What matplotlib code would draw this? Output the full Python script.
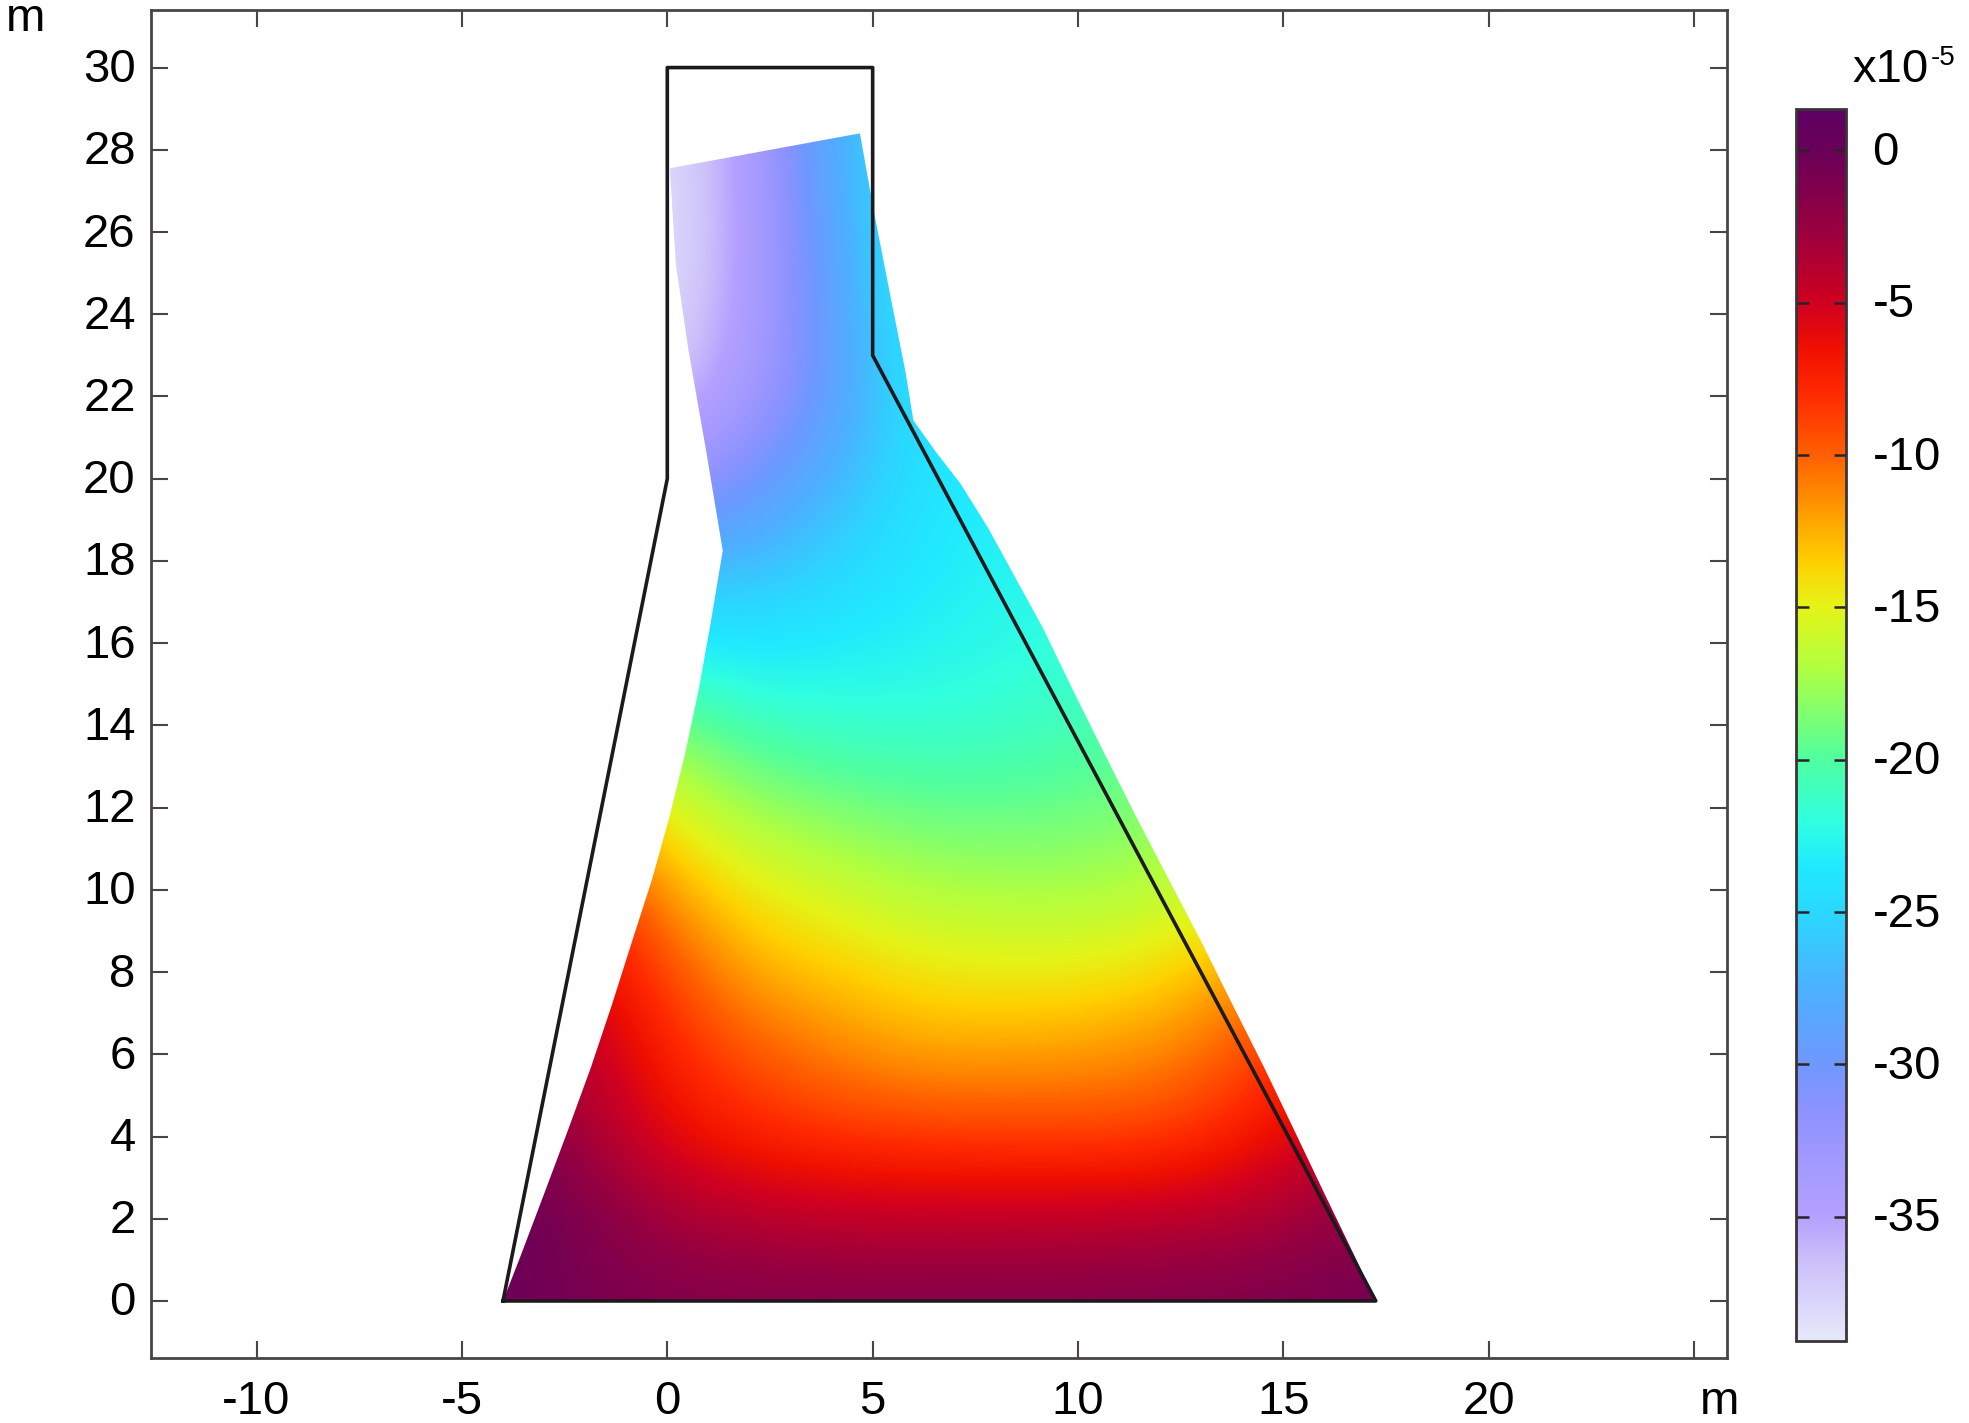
#!/usr/bin/env python3
"""Mapa de color sobre la seccion deformada de la presa, con el contorno original."""

import numpy as np
import matplotlib
matplotlib.use("Agg")
import matplotlib.pyplot as plt
from matplotlib.colors import LinearSegmentedColormap, Normalize
from matplotlib.patches import Polygon
from matplotlib.cm import ScalarMappable
from matplotlib.transforms import ScaledTranslation

plt.rcParams["font.family"] = ["Liberation Sans", "DejaVu Sans"]

# Contorno sin deformar (m)
outline_x = [-4, 0, 0, 5, 5, 17.25, -4]
outline_y = [0, 20, 30, 30, 23, 0, 0]

# Borde de la forma deformada (m)
shape_x = [-4.0, -3.57, -2.99, -2.42, -1.86, -1.35, -0.86, -0.37, 0.06, 0.43, 0.76, 1.04, 1.35,
           0.95, 0.52, 0.21, 0.06,
           4.69, 5.03, 5.48, 5.8, 5.99, 6.54, 7.13, 7.8, 8.47, 9.14, 9.88, 10.64, 11.41, 12.2,
           13.0, 13.76, 14.53, 15.26, 15.99, 16.73, 17.25]
shape_y = [0.0, 1.1, 2.63, 4.15, 5.68, 7.2, 8.74, 10.26, 11.8, 13.3, 14.85, 16.4, 18.25,
           20.65, 23.1, 25.2, 27.55,
           28.4, 26.5, 24.2, 22.6, 21.42, 20.65, 19.89, 18.82, 17.6, 16.38, 14.85, 13.32, 11.79,
           10.27, 8.74, 7.21, 5.68, 4.16, 2.63, 1.1, 0.0]

# Valores (x10^-5), una fila por cota
field_x = [-4, -2, 0, 2, 4, 6, 8, 10, 12, 14, 16, 18]
field_y = [0, 2, 4, 6, 8, 10, 12, 14, 16, 18, 20, 22, 24, 26, 28]
row_00 = [-0.3, -0.8, -1.2, -1.3, -1.3, -1.3, -1.3, -1.3, -1.2, -1.1, -0.8, -0.5]
row_02 = [0.5, -1.2, -3.0, -3.8, -4.2, -4.3, -4.3, -4.2, -4.0, -3.6, -2.5, -1.5]
row_04 = [-1.0, -3.0, -6.0, -7.5, -8.2, -8.5, -8.7, -8.8, -8.7, -7.3, -5.0, -3.0]
row_06 = [-3.0, -4.0, -7.5, -9.5, -11.0, -12.0, -12.0, -11.8, -11.3, -9.5, -7.0, -5.0]
row_08 = [-5.0, -5.5, -9.0, -12.3, -13.3, -14.3, -14.7, -14.6, -14.0, -12.0, -10.0, -8.0]
row_10 = [-7.0, -7.5, -12.0, -14.6, -15.8, -16.9, -17.2, -17.3, -16.7, -15.5, -14.0, -12.0]
row_12 = [-11.0, -12.0, -15.3, -17.6, -18.6, -19.3, -19.4, -19.2, -18.4, -17.0, -16.0, -15.0]
row_14 = [-17.0, -17.0, -18.8, -20.8, -21.4, -21.6, -21.4, -20.8, -20.0, -19.0, -18.5, -18.0]
row_16 = [-22.0, -22.3, -23.2, -23.8, -23.4, -23.0, -22.4, -21.8, -21.4, -21.0, -21.0, -21.0]
row_18 = [-27.0, -27.0, -27.0, -26.8, -25.2, -23.7, -22.9, -22.5, -22.5, -22.5, -22.5, -22.5]
row_20 = [-33.0, -33.0, -33.0, -30.5, -27.2, -24.2, -23.3, -23.3, -23.3, -23.3, -23.3, -23.3]
row_22 = [-37.0, -37.0, -37.0, -33.5, -29.2, -24.0, -23.5, -23.5, -23.5, -23.5, -23.5, -23.5]
row_24 = [-38.5, -38.5, -38.5, -34.3, -29.0, -23.2, -23.5, -23.5, -23.5, -23.5, -23.5, -23.5]
row_26 = [-38.8, -38.8, -38.8, -34.5, -28.5, -23.0, -23.5, -23.5, -23.5, -23.5, -23.5, -23.5]
row_28 = [-38.5, -38.5, -38.5, -34.5, -27.5, -24.0, -24.0, -24.0, -24.0, -24.0, -24.0, -24.0]

x_ticks = [-10, -5, 0, 5, 10, 15, 20, 25]
x_labels = ["-10", "-5", "0", "5", "10", "15", "20", ""]
y_ticks = list(range(0, 31, 2))
cbar_ticks = [0, -5, -10, -15, -20, -25, -30, -35]

vmin, vmax = -39.08, 1.36
stops = [
    (1.36, "#5e0064"), (0.0, "#6a0058"), (-2.5, "#980040"), (-5.0, "#d00020"),
    (-6.5, "#f01000"), (-8.0, "#ff2a00"), (-10.0, "#ff6000"), (-12.0, "#ffa000"),
    (-13.5, "#ffd000"), (-15.0, "#e4f418"), (-17.0, "#b0ff40"), (-19.0, "#70ff80"),
    (-20.0, "#50ffa0"), (-22.0, "#30ffe0"), (-23.5, "#20eaff"), (-25.0, "#2ad8ff"),
    (-27.5, "#4cb0ff"), (-30.0, "#6f98ff"), (-31.5, "#8c92ff"), (-33.0, "#a098ff"),
    (-35.0, "#b4a0ff"), (-36.5, "#ccc0fa"), (-39.08, "#e6e8fa"),
]
cmap = LinearSegmentedColormap.from_list(
    "presa", [((v - vmin) / (vmax - vmin), c) for v, c in reversed(stops)], N=512)
norm = Normalize(vmin, vmax)

W, H = 1969, 1423
LINE = "#4a4444"
FS = 34

fig = plt.figure(figsize=(W / 100, H / 100), dpi=100, facecolor="white")
ax = fig.add_axes([151 / W, 1 - 1357.5 / H, 1576 / W, 1347.5 / H])

field = np.array([row_00, row_02, row_04, row_06, row_08, row_10, row_12, row_14,
                  row_16, row_18, row_20, row_22, row_24, row_26, row_28])
extent = [field_x[0] - 1, field_x[-1] + 1, field_y[0] - 1, field_y[-1] + 1]
im = ax.imshow(field, origin="lower", extent=extent, cmap=cmap, norm=norm,
               interpolation="bicubic", interpolation_stage="data", aspect="auto", zorder=1)
im.set_clip_path(Polygon(np.column_stack([shape_x, shape_y]), closed=True,
                         transform=ax.transData))

ax.plot(outline_x, outline_y, color="#1c1a1c", lw=2.6, solid_joinstyle="round", zorder=3)

ax.set_xlim(-12.57, 25.8)
ax.set_ylim(-1.375, 31.4)
ax.set_xticks(x_ticks, x_labels)
ax.set_yticks(y_ticks)
ax.tick_params(axis="x", direction="in", top=True, length=12, width=1.5, color=LINE,
               labelsize=FS, pad=16)
ax.tick_params(axis="y", direction="in", right=True, length=12, width=1.5, color=LINE,
               labelsize=FS, pad=11)
for s in ax.spines.values():
    s.set_color(LINE)
    s.set_linewidth(2)

# Barra de color
cax = fig.add_axes([1796 / W, 1 - 1341 / H, 50 / W, 1232 / H])
cb = fig.colorbar(ScalarMappable(norm=norm, cmap=cmap), cax=cax, ticks=cbar_ticks)
cb.outline.set_edgecolor("#3a3438")
cb.outline.set_linewidth(2)
cax.tick_params(direction="in", left=True, right=True, length=9, width=1.8, color="#2a2228",
                labelsize=FS, pad=19)
cb.set_ticklabels([str(t) for t in cbar_ticks])

# las etiquetas verticales van un poco por encima de su marca
up = ScaledTranslation(0, 2.5 / 100, fig.dpi_scale_trans)
for lab in ax.get_yticklabels() + cax.get_yticklabels():
    lab.set_transform(lab.get_transform() + up)

fig.text(1852 / W, 1 - 82 / H, "x10", fontsize=FS, color="black", va="baseline")
fig.text(1931 / W, 1 - 65 / H, "-5", fontsize=20, color="black", va="baseline")
fig.text(6 / W, 1 - 31 / H, "m", fontsize=FS, color="black", va="baseline")
fig.text(1700 / W, 1 - 1414 / H, "m", fontsize=FS, color="black", va="baseline")

fig.savefig("out.png", dpi=100)
plt.close(fig)
